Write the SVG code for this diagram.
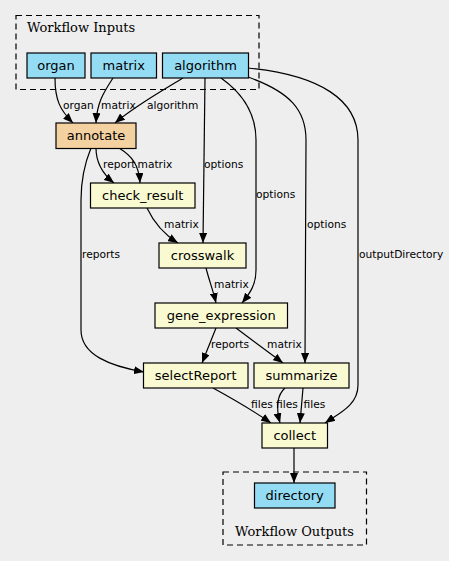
<svg xmlns="http://www.w3.org/2000/svg" width="449" height="561" viewBox="0 0 449 561">
<defs>
<marker id="arr" markerWidth="10" markerHeight="8" refX="10" refY="4" orient="auto" markerUnits="userSpaceOnUse">
<path d="M0,0 L10,4 L0,8 Z" fill="#000"/>
</marker>
<style>
.cl{fill:none;stroke:#000;stroke-width:1.2;stroke-dasharray:6,4}
.cll{font-family:"DejaVu Serif",serif;font-size:13px;fill:#000}
.n rect{stroke:#000;stroke-width:1.2}
.n text{font-family:"DejaVu Sans",sans-serif;font-size:13px;fill:#000;text-anchor:middle}
.io rect{fill:#94dcf4}
.st rect{fill:#fafad2}
.an rect{fill:#f4d1a0}
.e path{fill:none;stroke:#000;stroke-width:1.2;marker-end:url(#arr)}
.e text{font-family:"DejaVu Sans",sans-serif;font-size:10.67px;fill:#000}
</style>
</defs>
<rect width="449" height="561" fill="#eeeeee"/>
<g id="cluster_inputs">
<rect class="cl" x="16" y="15.5" width="243" height="74"/>
<text class="cll" x="27" y="32">Workflow Inputs</text>
</g>
<g id="cluster_outputs">
<rect class="cl" x="223" y="472" width="143.5" height="73"/>
<text class="cll" x="294.5" y="536" text-anchor="middle">Workflow Outputs</text>
</g>
<g id="edges" class="e">
<path d="M55,78 C55,100 60,110 73,123"/>
<text x="63" y="109">organ</text>
<path d="M113,78 C104,92 97,102 96,123"/>
<text x="101" y="109">matrix</text>
<path d="M183,78 C160,92 135,106 115,123"/>
<text x="147" y="109">algorithm</text>
<path d="M205,78 L203,243"/>
<text x="204" y="168">options</text>
<path d="M221,78 C245,95 256,115 256,140 L256,270 C256,285 250,293 242,303"/>
<text x="256" y="198">options</text>
<path d="M248,77 C290,92 306,110 306,140 L305,363"/>
<text x="307" y="228">options</text>
<path d="M248,68 C320,75 358,100 358,140 L358,385 C358,405 340,413 325,423"/>
<text x="359" y="258">outputDirectory</text>
<path d="M96,148 C96,165 104,175 114,183"/>
<text x="103" y="168">report</text>
<path d="M119,148 C132,156 139,165 140,183"/>
<text x="137.5" y="168">matrix</text>
<path d="M91,148 C84,165 81,180 81,200 L81,330 C81,355 110,366 144,372"/>
<text x="82" y="258">reports</text>
<path d="M147,208 C155,225 165,235 178,243"/>
<text x="164" y="228">matrix</text>
<path d="M206,268 C209,280 213,290 216,303"/>
<text x="214" y="288">matrix</text>
<path d="M216,328 L202,363"/>
<text x="211" y="348">reports</text>
<path d="M236,328 L283,363"/>
<text x="267" y="348">matrix</text>
<path d="M213,388 C235,400 255,412 271,423"/>
<text x="251" y="408">files</text>
<path d="M285,388 C276,396 276,408 280,423"/>
<text x="276" y="408">files</text>
<path d="M303,388 L300,423"/>
<text x="303.5" y="408">files</text>
<path d="M294,448 L294,483"/>
</g>
<g id="organ" class="n io"><rect x="27" y="53" width="58" height="25"/><text x="56" y="70">organ</text></g>
<g id="matrix" class="n io"><rect x="91" y="53" width="65.5" height="25"/><text x="123.7" y="70">matrix</text></g>
<g id="algorithm" class="n io"><rect x="162.5" y="53" width="86" height="25"/><text x="205.5" y="70">algorithm</text></g>
<g id="annotate" class="n an"><rect x="56" y="123" width="80" height="25.5"/><text x="96" y="140">annotate</text></g>
<g id="check_result" class="n st"><rect x="90.5" y="183" width="104.5" height="25"/><text x="142.7" y="200">check_result</text></g>
<g id="crosswalk" class="n st"><rect x="159" y="243" width="87" height="25"/><text x="202.5" y="260">crosswalk</text></g>
<g id="gene_expression" class="n st"><rect x="155" y="303" width="132.5" height="25"/><text x="221.2" y="320">gene_expression</text></g>
<g id="selectReport" class="n st"><rect x="143.5" y="363" width="104.5" height="25"/><text x="195.7" y="380">selectReport</text></g>
<g id="summarize" class="n st"><rect x="254" y="363" width="95" height="25"/><text x="301.5" y="380">summarize</text></g>
<g id="collect" class="n st"><rect x="262" y="423" width="65.5" height="25"/><text x="294.7" y="440">collect</text></g>
<g id="directory" class="n io"><rect x="254.5" y="483" width="80.5" height="25"/><text x="294.7" y="500">directory</text></g>
</svg>
